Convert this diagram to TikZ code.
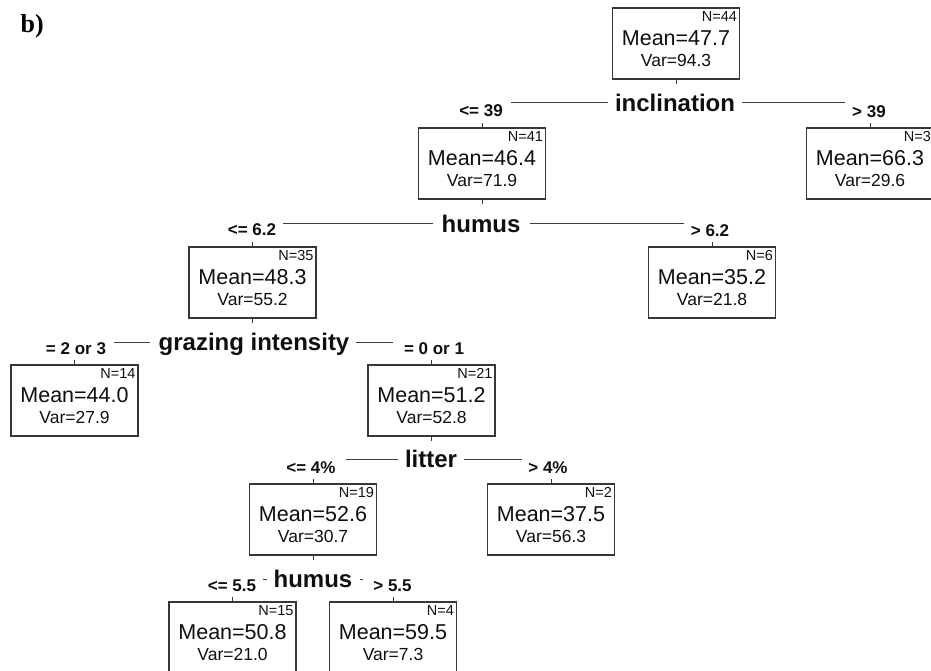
\documentclass[tikz,border=0pt]{standalone}
\usepackage{fontspec}
\setmainfont{Liberation Sans}
\newfontfamily\serifbold{Liberation Serif}
\usetikzlibrary{calc}
\definecolor{boxc}{RGB}{55,55,55}
\definecolor{linec}{RGB}{60,60,60}
\definecolor{txtc}{RGB}{15,15,15}
\tikzset{
  tbox/.style={draw=boxc, line width=1.2pt, minimum width=127pt, minimum height=71pt, inner sep=0pt},
  nT/.style={inner sep=0pt, text=txtc, font=\fontsize{14.5}{16}\selectfont, text height=10.4pt, text depth=0pt},
  meanT/.style={inner sep=0pt, text=txtc, font=\fontsize{21.5}{24}\selectfont, text height=15.4pt, text depth=0pt},
  varT/.style={inner sep=0pt, text=txtc, font=\fontsize{17.5}{20}\selectfont, text height=12.5pt, text depth=0pt},
  splitT/.style={inner sep=0pt, text=txtc, font=\bfseries\fontsize{24}{27}\selectfont, text height=17.2pt, text depth=0pt},
  condT/.style={inner sep=0pt, text=txtc, font=\bfseries\fontsize{17}{19}\selectfont, text height=12.2pt, text depth=0pt},
  conn/.style={draw=linec, line width=1pt},
}
\newcommand\treebox[6]{%
  \node[tbox] (#1) at (#2,#3+35.5) {};
  \node[nT,anchor=east] (#1n) at ([xshift=-3pt,yshift=-9pt]#1.north east) {N=#4};
  \node[meanT] (#1m) at ([yshift=-30pt]#1.north) {Mean=#5};
  \node[varT] (#1v) at ([yshift=-52.5pt]#1.north) {Var=#6};
}
% split label, left cond, right cond, gaps: left-split, left-cond, right-split, right-cond
\newcommand\splitlines[7]{%
  \draw[conn] ([xshift=-#4pt]#1.west) -- ($(#2.east |- #1.west)+(#5pt,0)$);
  \draw[conn] ([xshift=#6pt]#1.east) -- ($(#3.west |- #1.east)+(-#7pt,0)$);
}
\begin{document}
\begin{tikzpicture}[x=1pt,y=-1pt]
\useasboundingbox (0,0) rectangle (931,671);
\node[inner sep=0pt, anchor=base west, font=\serifbold\bfseries\fontsize{26}{28}\selectfont] (title) at (20.5,33) {b)};

% boxes
\treebox{b0}{676}{8}{44}{47.7}{94.3}
\treebox{b1}{482}{128}{41}{46.4}{71.9}
\treebox{b2}{870}{128}{3}{66.3}{29.6}
\treebox{b3}{252.5}{247}{35}{48.3}{55.2}
\treebox{b4}{712}{247}{6}{35.2}{21.8}
\treebox{b5}{74.5}{365}{14}{44.0}{27.9}
\treebox{b6}{431.5}{365}{21}{51.2}{52.8}
\treebox{b7}{313}{484}{19}{52.6}{30.7}
\treebox{b8}{551}{484}{2}{37.5}{56.3}
\treebox{b9}{232.5}{602}{15}{50.8}{21.0}
\treebox{b10}{393}{602}{4}{59.5}{7.3}

% split labels
\node[splitT] (s0) at (675,103) {inclination};
\node[splitT] (s1) at (481,223.5) {humus};
\node[splitT] (s2) at (254,342) {grazing intensity};
\node[splitT] (s3) at (431,459) {litter};
\node[splitT] (s4) at (313,579) {humus};

% condition labels
\node[condT] (c0a) at (481,110.5) {<= 39};
\node[condT] (c0b) at (869,111) {> 39};
\node[condT] (c1a) at (252,229.5) {<= 6.2};
\node[condT] (c1b) at (710,230) {> 6.2};
\node[condT] (c2a) at (76,348.5) {= 2 or 3};
\node[condT] (c2b) at (434,348.5) {= 0 or 1};
\node[condT] (c3a) at (311,467) {<= 4\%};
\node[condT] (c3b) at (548,467) {> 4\%};
\node[condT] (c4a) at (232,585) {<= 5.5};
\node[condT] (c4b) at (392.5,585) {> 5.5};

% ticks below parents
\foreach \p in {b0,b1,b3,b6,b7}{\draw[conn] (\p.south) -- ++(0,4);}
% ticks above children
\foreach \c in {b1,b2,b3,b4,b5,b6,b7,b8,b9,b10}{\draw[conn] (\c.north) -- ++(0,-4);}

% horizontal split lines
\splitlines{s0}{c0a}{c0b}{7}{8}{7}{7}
\splitlines{s1}{c1a}{c1b}{8}{7}{9}{7}
\splitlines{s2}{c2a}{c2b}{8}{8}{6}{11}
\splitlines{s3}{c3a}{c3b}{7}{10}{7}{6}
\splitlines{s4}{c4a}{c4b}{6}{7}{7}{10}
\end{tikzpicture}
\end{document}
